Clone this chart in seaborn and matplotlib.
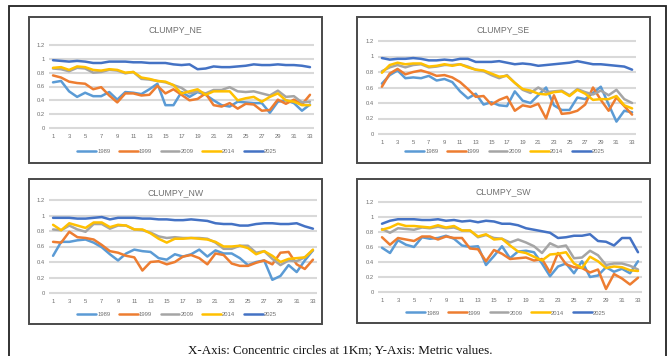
import numpy as np
import pandas as pd
import matplotlib
matplotlib.use("Agg")
import matplotlib.pyplot as plt
from matplotlib.lines import Line2D
from matplotlib.patches import Rectangle
from matplotlib.ticker import FormatStrFormatter
import seaborn as sns

# Concentric ring index (1 km steps)
rings = list(range(1, 34))
years = ["1989", "1999", "2009", "2014", "2025"]
colors = ["#5B9BD5", "#ED7D31", "#A5A5A5", "#FFC000", "#4472C4"]

ne_1989 = [0.66,0.68,0.53,0.45,0.51,0.46,0.46,0.52,0.41,0.52,0.51,0.49,0.56,0.64,0.33,0.33,0.52,0.45,0.52,0.48,0.40,0.33,0.31,0.38,0.37,0.36,0.36,0.22,0.38,0.40,0.36,0.25,0.34]
ne_1999 = [0.76,0.73,0.67,0.65,0.64,0.56,0.59,0.47,0.37,0.50,0.50,0.47,0.48,0.61,0.50,0.56,0.48,0.40,0.42,0.50,0.33,0.31,0.36,0.28,0.35,0.34,0.25,0.26,0.41,0.35,0.41,0.34,0.48]
ne_2009 = [0.86,0.85,0.82,0.87,0.86,0.80,0.81,0.84,0.83,0.79,0.81,0.71,0.70,0.68,0.66,0.62,0.58,0.50,0.53,0.50,0.55,0.55,0.59,0.53,0.52,0.53,0.50,0.47,0.54,0.45,0.46,0.37,0.38]
ne_2014 = [0.87,0.88,0.84,0.89,0.88,0.84,0.83,0.85,0.84,0.80,0.81,0.73,0.71,0.68,0.67,0.62,0.50,0.53,0.56,0.48,0.53,0.53,0.53,0.40,0.43,0.45,0.38,0.45,0.50,0.40,0.38,0.33,0.33]
ne_2025 = [0.98,0.97,0.96,0.97,0.96,0.94,0.94,0.96,0.96,0.96,0.95,0.95,0.94,0.94,0.94,0.92,0.91,0.92,0.85,0.86,0.89,0.88,0.88,0.89,0.90,0.92,0.91,0.91,0.92,0.91,0.91,0.90,0.88]

se_1989 = [0.65,0.76,0.82,0.72,0.73,0.72,0.75,0.69,0.71,0.67,0.55,0.46,0.52,0.38,0.41,0.37,0.36,0.55,0.43,0.40,0.50,0.60,0.37,0.31,0.31,0.47,0.45,0.53,0.61,0.38,0.16,0.30,0.28]
se_1999 = [0.61,0.78,0.84,0.77,0.80,0.82,0.79,0.75,0.76,0.73,0.67,0.58,0.48,0.49,0.38,0.44,0.48,0.30,0.37,0.35,0.39,0.20,0.50,0.26,0.27,0.30,0.38,0.60,0.44,0.30,0.47,0.36,0.25]
se_2009 = [0.81,0.86,0.89,0.86,0.89,0.90,0.86,0.87,0.89,0.89,0.90,0.87,0.83,0.81,0.76,0.72,0.76,0.66,0.57,0.53,0.60,0.54,0.55,0.56,0.50,0.58,0.54,0.51,0.56,0.50,0.57,0.45,0.40]
se_2014 = [0.79,0.89,0.92,0.90,0.91,0.91,0.87,0.88,0.90,0.88,0.90,0.86,0.83,0.82,0.78,0.74,0.75,0.66,0.58,0.56,0.52,0.51,0.54,0.55,0.49,0.57,0.52,0.44,0.45,0.45,0.49,0.37,0.33]
se_2025 = [0.98,0.96,0.97,0.97,0.98,0.97,0.95,0.95,0.96,0.95,0.97,0.97,0.93,0.93,0.93,0.94,0.92,0.90,0.91,0.90,0.88,0.89,0.90,0.91,0.92,0.94,0.92,0.90,0.90,0.89,0.88,0.87,0.83]

nw_1989 = [0.48,0.66,0.66,0.68,0.69,0.65,0.59,0.50,0.42,0.51,0.56,0.54,0.53,0.45,0.43,0.50,0.47,0.50,0.56,0.47,0.55,0.51,0.51,0.45,0.36,0.40,0.42,0.17,0.22,0.36,0.27,0.42,0.55]
nw_1999 = [0.66,0.65,0.79,0.72,0.71,0.69,0.62,0.54,0.52,0.48,0.46,0.29,0.40,0.41,0.37,0.40,0.47,0.49,0.45,0.37,0.51,0.49,0.38,0.35,0.35,0.39,0.42,0.37,0.52,0.53,0.37,0.31,0.43]
nw_2009 = [0.82,0.81,0.87,0.82,0.79,0.89,0.89,0.83,0.87,0.87,0.82,0.81,0.78,0.73,0.71,0.72,0.71,0.71,0.71,0.70,0.65,0.57,0.57,0.61,0.61,0.52,0.54,0.44,0.36,0.42,0.41,0.46,0.55]
nw_2014 = [0.88,0.81,0.90,0.87,0.84,0.91,0.91,0.85,0.88,0.87,0.82,0.82,0.77,0.70,0.65,0.70,0.70,0.71,0.70,0.69,0.66,0.60,0.60,0.61,0.58,0.50,0.54,0.48,0.40,0.44,0.45,0.46,0.56]
nw_2025 = [0.97,0.97,0.97,0.96,0.96,0.97,0.98,0.95,0.97,0.97,0.97,0.96,0.96,0.95,0.95,0.94,0.94,0.95,0.94,0.93,0.90,0.89,0.89,0.87,0.87,0.89,0.90,0.90,0.89,0.89,0.90,0.86,0.83]

sw_1989 = [0.59,0.52,0.69,0.63,0.60,0.73,0.71,0.72,0.75,0.71,0.62,0.60,0.61,0.36,0.48,0.61,0.45,0.54,0.55,0.53,0.38,0.21,0.34,0.38,0.25,0.41,0.20,0.22,0.33,0.27,0.31,0.25,0.41]
sw_1999 = [0.73,0.63,0.72,0.70,0.68,0.74,0.74,0.70,0.74,0.72,0.72,0.58,0.57,0.41,0.56,0.51,0.44,0.45,0.46,0.42,0.44,0.26,0.52,0.37,0.33,0.32,0.26,0.30,0.04,0.24,0.18,0.10,0.19]
sw_2009 = [0.84,0.79,0.85,0.84,0.83,0.86,0.85,0.87,0.85,0.86,0.82,0.82,0.73,0.76,0.72,0.71,0.66,0.70,0.66,0.61,0.52,0.65,0.60,0.62,0.45,0.46,0.55,0.49,0.36,0.38,0.38,0.35,0.30]
sw_2014 = [0.83,0.86,0.91,0.88,0.88,0.87,0.86,0.89,0.86,0.88,0.82,0.82,0.74,0.77,0.70,0.71,0.62,0.54,0.52,0.47,0.42,0.50,0.51,0.53,0.38,0.32,0.47,0.41,0.32,0.34,0.33,0.29,0.28]
sw_2025 = [0.91,0.95,0.97,0.97,0.97,0.96,0.96,0.97,0.95,0.96,0.94,0.95,0.93,0.95,0.94,0.91,0.91,0.89,0.85,0.83,0.81,0.79,0.72,0.73,0.75,0.75,0.77,0.68,0.67,0.62,0.72,0.72,0.53]

y_ticks = [0, 0.2, 0.4, 0.6, 0.8, 1.0, 1.2]
x_ticks = list(range(1, 34, 2))

panels = {
    "CLUMPY_NE": [ne_1989, ne_1999, ne_2009, ne_2014, ne_2025],
    "CLUMPY_SE": [se_1989, se_1999, se_2009, se_2014, se_2025],
    "CLUMPY_NW": [nw_1989, nw_1999, nw_2009, nw_2014, nw_2025],
    "CLUMPY_SW": [sw_1989, sw_1999, sw_2009, sw_2014, sw_2025],
}

def long_frame(series):
    rows = []
    for yr, vals in zip(years, series):
        for r, v in zip(rings, vals):
            rows.append({"ring": r, "value": v, "year": yr})
    return pd.DataFrame(rows)

sns.set_theme(style="white")
plt.rcParams["font.family"] = ["Liberation Sans", "DejaVu Sans"]

W, H = 670, 356
fig = plt.figure(figsize=(W / 100, H / 100), dpi=100)
fig.patch.set_facecolor("white")

def fx(px):
    return px / W

def fy(py):
    return 1 - py / H

# outer frame (runs past the bottom edge)
fig.add_artist(Rectangle((fx(9), fy(362)), fx(666) - fx(9), fy(6) - fy(362),
                         transform=fig.transFigure, fill=False,
                         edgecolor="#222222", linewidth=1.3))

# layout in pixels: chart box, plot x range, y of 1.2 and 0, title y, legend (x, y)
layout = {
    "CLUMPY_NE": dict(box=(29, 17, 322, 163), x=(49, 314), y=(45, 128), title=30, leg=(177, 151)),
    "CLUMPY_SE": dict(box=(357, 17, 650, 163), x=(378, 636), y=(41, 134), title=30, leg=(505, 151)),
    "CLUMPY_NW": dict(box=(29, 179, 322, 324), x=(49, 317), y=(200, 293), title=193, leg=(177, 314)),
    "CLUMPY_SW": dict(box=(357, 179, 650, 323), x=(378, 642), y=(202, 292), title=192, leg=(506, 313)),
}

pad = 0.03
for name, series in panels.items():
    L = layout[name]
    bx0, by0, bx1, by1 = L["box"]
    fig.add_artist(Rectangle((fx(bx0), fy(by1)), fx(bx1) - fx(bx0), fy(by0) - fy(by1),
                             transform=fig.transFigure, fill=False,
                             edgecolor="#4A4A4A", linewidth=1.4))
    x0, x1 = L["x"]
    ytop, ybot = L["y"]
    per = (ybot - ytop) / 1.2
    top_px = ytop - pad * per
    bot_px = ybot + pad * per
    ax = fig.add_axes([fx(x0), fy(bot_px), fx(x1) - fx(x0), fy(top_px) - fy(bot_px)])
    ax.set_facecolor("none")
    df = long_frame(series)
    sns.lineplot(data=df, x="ring", y="value", hue="year", hue_order=years,
                 palette=colors, linewidth=1.8, legend=False, ax=ax)
    ax.set_xlim(0.5, 33.5)
    ax.set_ylim(-pad, 1.2 + pad)
    ax.set_yticks(y_ticks)
    ax.yaxis.set_major_formatter(FormatStrFormatter("%g"))
    ax.set_xticks(x_ticks)
    ax.set_xticklabels([str(t) for t in x_ticks])
    ax.grid(axis="y", color="#D9D9D9", linewidth=1.5)
    ax.grid(axis="x", visible=False)
    ax.set_axisbelow(True)
    for s in ax.spines.values():
        s.set_visible(False)
    ax.tick_params(axis="both", length=0, labelsize=4.2, labelcolor="#6F6F6F", pad=3)
    ax.set_xlabel("")
    ax.set_ylabel("")
    fig.text(fx((bx0 + bx1) / 2), fy(L["title"]), name, ha="center", va="center",
             fontsize=6.3, color="#707070")
    handles = [Line2D([0], [0], color=c, linewidth=1.8) for c in colors]
    lx, ly = L["leg"]
    fig.legend(handles, years, loc="center", bbox_to_anchor=(fx(lx), fy(ly)),
               ncol=5, frameon=False, fontsize=4.2, labelcolor="#6F6F6F",
               handlelength=3.2, handletextpad=0.2, columnspacing=1.5)

fig.text(fx(340), fy(350), "X-Axis: Concentric circles at 1Km; Y-Axis: Metric values.",
         ha="center", va="center", fontsize=9.4, family=["Liberation Serif", "DejaVu Serif"],
         color="#111111")

fig.savefig("out.png", dpi=100)
